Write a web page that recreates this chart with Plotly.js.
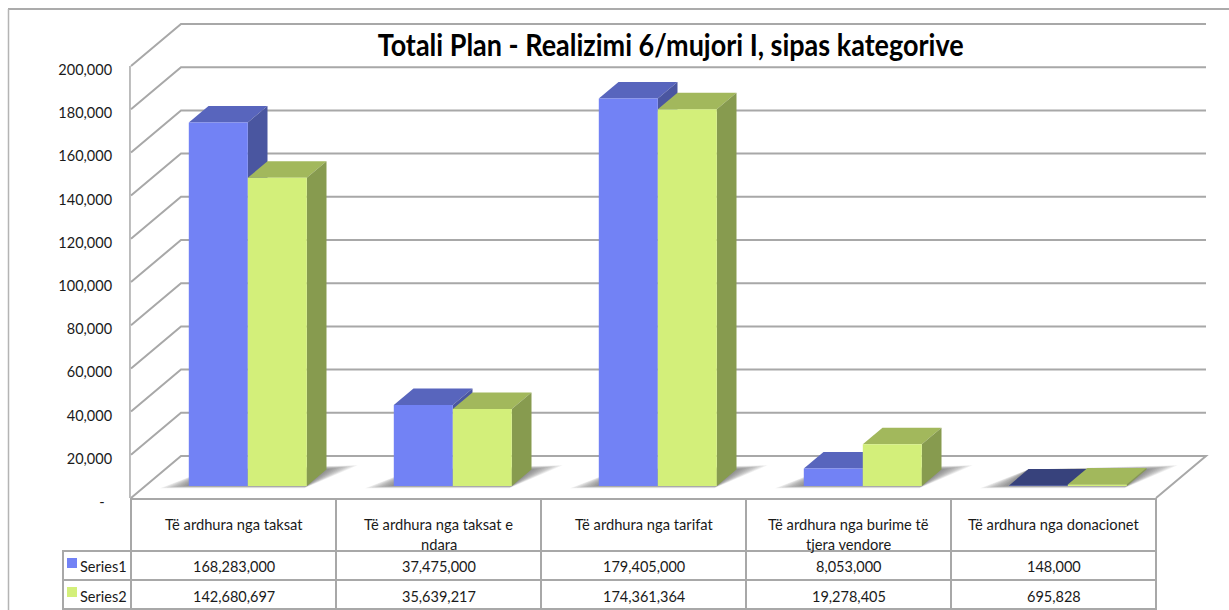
<!DOCTYPE html>
<html><head><meta charset="utf-8">
<script src="https://cdn.plot.ly/plotly-3.0.1.min.js"></script>
<style>html,body{margin:0;padding:0;background:#fff}#c{width:1229px;height:610px}</style>
</head><body><div id="c"></div>
<script>
const titleText = "Totali Plan - Realizimi 6/mujori I, sipas kategorive";
const categories = ["Të ardhura nga taksat", "Të ardhura nga taksat e ndara", "Të ardhura nga tarifat", "Të ardhura nga burime të tjera vendore", "Të ardhura nga donacionet"];
const categoryLine1 = ["Të ardhura nga taksat", "Të ardhura nga taksat e", "Të ardhura nga tarifat", "Të ardhura nga burime të", "Të ardhura nga donacionet"];
const categoryLine2 = ["", "ndara", "", "tjera vendore", ""];
const series1 = [168283000, 37475000, 179405000, 8053000, 148000];
const series2 = [142680697, 35639217, 174361364, 19278405, 695828];
const tickValues = [0, 20000, 40000, 60000, 80000, 100000, 120000, 140000, 160000, 180000, 200000];
const seriesNames = ["Series1", "Series2"];

const W = 1229, H = 610, X0 = 131, Y0 = 498, UNIT = 205, PERK = 0.00216, DX = 50, DY = 42;
const FONT = "Lato, Carlito, sans-serif", GRID = "#a8a8a8", TXT = "#1a1a1a";
const xv = px => (px - X0) / UNIT;
const yv = py => (Y0 - py) / PERK;
const pf = x => x / W, qf = y => 1 - y / H;
// project (category position, axis value in thousands, depth 0..1)
const P = (c, v, d) => [c + d * DX / UNIT, v + d * DY / PERK];
const pathOf = pts => pts.map((p, i) => (i ? "L" : "M") + p[0] + "," + p[1]).join(" ");

const shapes = [];
// outer frame
shapes.push({type:"line",xref:"paper",yref:"paper",x0:pf(8),x1:1,y0:qf(9),y1:qf(9),line:{color:"#8f8f8f",width:1.5}});
shapes.push({type:"line",xref:"paper",yref:"paper",x0:pf(8.5),x1:pf(8.5),y0:qf(9),y1:0,line:{color:"#b4b4b4",width:1.5}});
// walls
tickValues.forEach(t => {
  const v = t;
  const pts = v === 0 ? [P(0,0,0),P(0,0,1),P(5,0,1),P(5,0,0)] : [P(0,v,0),P(0,v,1),P(5,v,1)];
  shapes.push({type:"path",xref:"x",yref:"y",layer:"below",path:pathOf(pts),line:{color:GRID,width:2}});
});
shapes.push({type:"path",xref:"x",yref:"y",layer:"below",path:pathOf([P(-0.005,0,0),P(-0.005,200000,0)]),line:{color:GRID,width:1.5}});
// table rules
const hl = (x0,x1,y)=>shapes.push({type:"line",xref:"paper",yref:"paper",x0:pf(x0),x1:pf(x1),y0:qf(y),y1:qf(y),line:{color:GRID,width:2}});
const vl = (x,y0,y1)=>shapes.push({type:"line",xref:"paper",yref:"paper",x0:pf(x),x1:pf(x),y0:qf(y0),y1:qf(y1),line:{color:GRID,width:2}});
hl(130,1157,499); hl(62,1157,551); hl(62,1157,580); hl(62,1157,609);
[131,336,541,746,951,1156].forEach(x=>vl(x,498,610)); vl(63,550,610);
// legend keys
const keyColors = ["#7282f5","#d3ef7a"];
[558,587].forEach((y,i)=>shapes.push({type:"rect",xref:"paper",yref:"paper",x0:pf(67),x1:pf(77),y0:qf(y),y1:qf(y+10),fillcolor:keyColors[i],line:{width:0}}));

const annotations = [];
const cell = (t,x,y,anchor,size)=>annotations.push({text:t,xref:"paper",yref:"paper",x:pf(x),y:qf(y),xanchor:anchor||"center",yanchor:"middle",showarrow:false,font:{family:FONT,size:size||14.7,color:TXT}});
categoryLine1.forEach((t,i)=>{
  const cx = X0 + UNIT*(i+0.5);
  cell(t,cx,524);
  if(categoryLine2[i]) cell(categoryLine2[i],cx,544);
  cell(series1[i].toLocaleString("en-US"),cx,566,"center",14.5);
  cell(series2[i].toLocaleString("en-US"),cx,596,"center",14.5);
});
seriesNames.forEach((n,i)=>cell(n,78,[566,596][i],"left",14.5));
annotations.push({text:"<b>"+titleText+"</b>",xref:"paper",yref:"paper",x:pf(670),y:qf(44),xanchor:"center",yanchor:"middle",showarrow:false,font:{family:FONT,size:30,color:"#000"}});

// bars
const D0 = 0.286, D1 = 0.68, BW = 59/UNIT;
const centre = i => i + 0.5;
const frontX = (i,s) => P(centre(i) + (s===0?-BW/2:BW/2), 0, D0)[0];
const baseV = P(0,0,D0)[1];
const colors = [
  {front:"#7282f5",side:"#4a56a0",top:"#5865bd",flatTop:"#37427c"},
  {front:"#d3ef7a",side:"#879b4f",top:"#a2b85c",flatTop:"#a2b85c"}
];
const traces = [];
const poly = (pts,color,z,op)=>traces.push({type:"scatter",mode:"none",x:pts.map(p=>p[0]),y:pts.map(p=>p[1]),fill:"toself",fillcolor:color,opacity:op===undefined?1:op,showlegend:false,hoverinfo:"skip",zorder:z,line:{width:0}});
// soft floor shadows
const shadowSteps = [0,1,2,3,4,5,6,7,8,9];
categories.forEach((c,i)=>{
  const L = centre(i)-BW, R = centre(i)+BW, e = 26/UNIT;
  shadowSteps.forEach(k=>{
    const t = k/9;
    const ex = e*(1-t);
    const a=P(L-ex,0,0.235+0.055*t), b=P(R,0,0.235+0.055*t), cc=P(R+ex,0,0.78-0.10*t), dd=P(L,0,0.68);
    poly([a,b,cc,dd,a],"rgba(70,70,70,0.085)",0);
  });
});
[series1,series2].forEach((vals,s)=>{
  const zb = s*2+1;
  vals.forEach((raw,i)=>{
    const v = raw/1000, l = centre(i)+(s===0?-BW:0), r = l+BW;
    const dh = v < 1000;
    poly([P(l,v,D0),P(r,v,D0),P(r,v,D1),P(l,v,D1),P(l,v,D0)],dh?colors[s].flatTop:colors[s].top,zb);
    poly([P(r,0,D0),P(r,v,D0),P(r,v,D1),P(r,0,D1),P(r,0,D0)],colors[s].side,zb);
  });
  traces.push({type:"bar",name:seriesNames[s],x:vals.map((_,i)=>frontX(i,s)),y:vals.map(v=>v/1000),base:vals.map(()=>baseV),width:BW,marker:{color:colors[s].front,line:{width:0}},showlegend:false,hoverinfo:"skip",zorder:zb+1});
});

const layout = {
  width:W,height:H,margin:{l:0,r:0,t:0,b:0},paper_bgcolor:"#fff",plot_bgcolor:"#fff",showlegend:false,barmode:"overlay",
  xaxis:{range:[xv(0),xv(W)],domain:[0,1],visible:false,fixedrange:true},
  yaxis:{range:[yv(H),yv(0)],domain:[0,1],anchor:"free",position:130/W,side:"left",showgrid:false,zeroline:false,showline:false,
    tickmode:"array",tickvals:tickValues,ticktext:tickValues.map(v=>v===0?"-\u00a0\u00a0":v.toLocaleString("en-US")),
    ticks:"outside",ticklen:0,ticklabelstandoff:15,ticklabelshift:4,tickfont:{family:FONT,size:14.5,color:TXT},fixedrange:true},
  shapes,annotations
};
Plotly.newPlot("c",traces,layout,{displayModeBar:false,staticPlot:true}).then(gd=>{
  // the reference title is a condensed face: narrow the real text to its measured width
  gd.querySelectorAll(".annotation-text").forEach(el=>{
    if(el.textContent===titleText){el.setAttribute("textLength","586");el.setAttribute("lengthAdjust","spacingAndGlyphs");}
  });
});
</script></body></html>
